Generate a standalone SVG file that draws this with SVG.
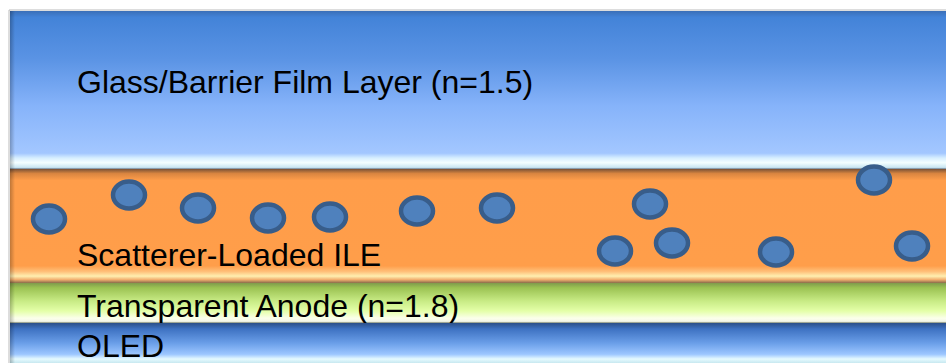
<svg xmlns="http://www.w3.org/2000/svg" width="946" height="363" viewBox="0 0 946 363">
<defs>
<linearGradient id="gGlass" x1="0" y1="0" x2="0" y2="1">
<stop offset="0" stop-color="#3A6FB8"/>
<stop offset="0.04" stop-color="#4383D8"/>
<stop offset="0.3" stop-color="#5A93E4"/>
<stop offset="0.6" stop-color="#86B3FA"/>
<stop offset="0.9" stop-color="#A3C7FF"/>
<stop offset="0.93" stop-color="#D6EEFF"/>
<stop offset="0.96" stop-color="#F4FFFF"/>
<stop offset="0.99" stop-color="#C9E6F2"/>
<stop offset="1" stop-color="#6E7C8C"/>
</linearGradient>
<linearGradient id="gOrange" x1="0" y1="0" x2="0" y2="1">
<stop offset="0" stop-color="#7A5236"/>
<stop offset="0.04" stop-color="#D98540"/>
<stop offset="0.1" stop-color="#FF9D4A"/>
<stop offset="0.85" stop-color="#FF9E4A"/>
<stop offset="0.9" stop-color="#FFC07A"/>
<stop offset="0.94" stop-color="#FFEFB0"/>
<stop offset="0.97" stop-color="#F2B070"/>
<stop offset="1" stop-color="#8A6A4A"/>
</linearGradient>
<linearGradient id="gGreen" x1="0" y1="0" x2="0" y2="1">
<stop offset="0" stop-color="#7F9A4C"/>
<stop offset="0.12" stop-color="#9BC252"/>
<stop offset="0.45" stop-color="#C8EB85"/>
<stop offset="0.7" stop-color="#E4FFA8"/>
<stop offset="0.88" stop-color="#FBFFEA"/>
<stop offset="0.96" stop-color="#F3F6E8"/>
<stop offset="1" stop-color="#7A8470"/>
</linearGradient>
<linearGradient id="gOled" x1="0" y1="0" x2="0" y2="1">
<stop offset="0" stop-color="#2B4F88"/>
<stop offset="0.15" stop-color="#3E72C2"/>
<stop offset="0.5" stop-color="#6A9EE8"/>
<stop offset="0.78" stop-color="#9CC6FF"/>
<stop offset="0.9" stop-color="#E6FAFF"/>
<stop offset="1" stop-color="#C8E8F0"/>
</linearGradient>
<linearGradient id="gLeft" x1="0" y1="0" x2="1" y2="0">
<stop offset="0" stop-color="#000" stop-opacity="0.25"/>
<stop offset="1" stop-color="#000" stop-opacity="0"/>
</linearGradient>
</defs>
<style>
.lbl{font-family:"Liberation Sans",Arial,sans-serif;font-size:32px;fill:#000}
.dot{fill:#4F81BD;stroke:#385D8A;stroke-width:4.5}
</style>
<rect x="0" y="0" width="946" height="363" fill="#FFFFFF"/>
<line x1="9" y1="10" x2="946" y2="10" stroke="#BBBBBB" stroke-width="1"/>
<line x1="9" y1="10" x2="9" y2="363" stroke="#BBBBBB" stroke-width="1"/>
<g id="glass">
<rect x="10" y="11" width="936" height="158" fill="url(#gGlass)"/>
<rect x="10" y="11" width="5" height="158" fill="url(#gLeft)"/>
<text class="lbl" x="77" y="93">Glass/Barrier Film Layer (n=1.5)</text>
</g>
<g id="ile">
<rect x="10" y="169" width="936" height="114" fill="url(#gOrange)"/>
<rect x="10" y="169" width="5" height="114" fill="url(#gLeft)"/>
<text class="lbl" x="77" y="266">Scatterer-Loaded ILE</text>
</g>
<g id="anode">
<rect x="10" y="283" width="936" height="40" fill="url(#gGreen)"/>
<rect x="10" y="283" width="5" height="40" fill="url(#gLeft)"/>
<text class="lbl" x="77" y="317">Transparent Anode (n=1.8)</text>
</g>
<g id="oled">
<rect x="10" y="323" width="936" height="40" fill="url(#gOled)"/>
<rect x="10" y="323" width="5" height="40" fill="url(#gLeft)"/>
<text class="lbl" x="77" y="357">OLED</text>
</g>
<g id="scatterers">
<ellipse class="dot" cx="49" cy="219" rx="16" ry="13.5"/>
<ellipse class="dot" cx="129" cy="195" rx="16" ry="13.5"/>
<ellipse class="dot" cx="198" cy="208" rx="16" ry="13.5"/>
<ellipse class="dot" cx="268" cy="218" rx="16" ry="13.5"/>
<ellipse class="dot" cx="330" cy="217" rx="16" ry="13.5"/>
<ellipse class="dot" cx="417" cy="211" rx="16" ry="13.5"/>
<ellipse class="dot" cx="497" cy="208" rx="16" ry="13.5"/>
<ellipse class="dot" cx="615" cy="251" rx="16" ry="13.5"/>
<ellipse class="dot" cx="650" cy="204" rx="16" ry="13.5"/>
<ellipse class="dot" cx="672" cy="243" rx="16" ry="13.5"/>
<ellipse class="dot" cx="776" cy="252" rx="16" ry="13.5"/>
<ellipse class="dot" cx="874" cy="180" rx="16" ry="13.5"/>
<ellipse class="dot" cx="912" cy="246" rx="16" ry="13.5"/>
</g>
</svg>
